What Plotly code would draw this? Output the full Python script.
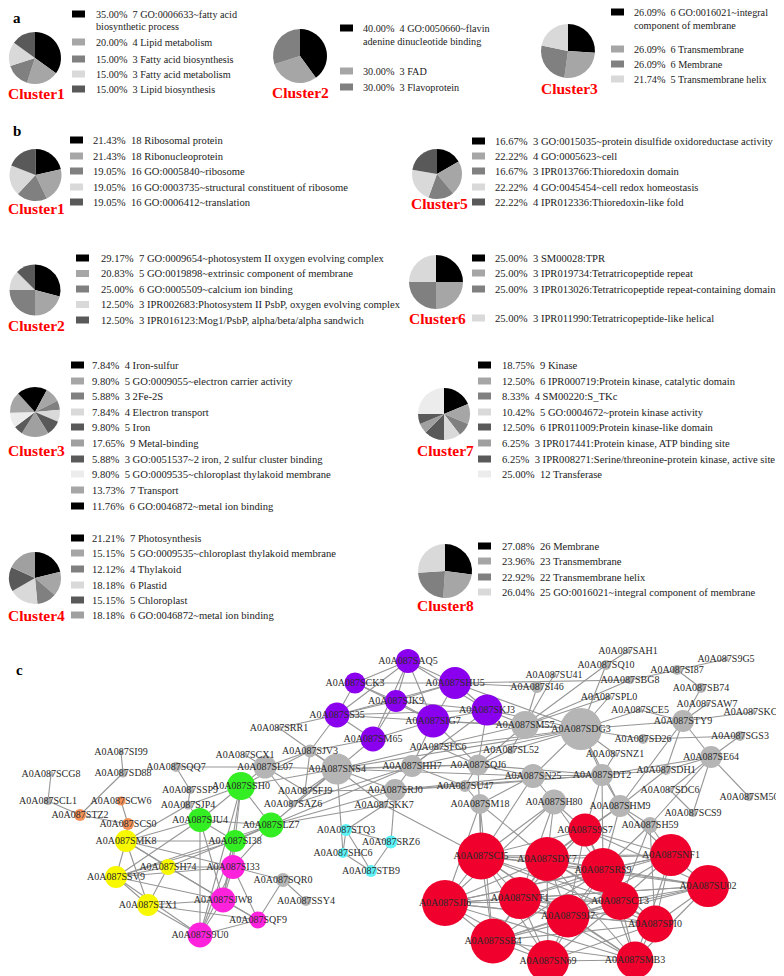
import plotly.graph_objects as go

W, H = 784, 976
FONT = "Liberation Serif"

# ---------------- data: panel a ----------------
a1_terms = ["GO:0006633~fatty acid\nbiosynthetic process", "Lipid metabolism", "Fatty acid biosynthesis",
            "Fatty acid metabolism", "Lipid biosynthesis"]
a1_pct = [35.00, 20.00, 15.00, 15.00, 15.00]
a1_cnt = [7, 4, 3, 3, 3]

a2_terms = ["GO:0050660~flavin\nadenine dinucleotide binding", "FAD", "Flavoprotein"]
a2_pct = [40.00, 30.00, 30.00]
a2_cnt = [4, 3, 3]

a3_terms = ["GO:0016021~integral\ncomponent of membrane", "Transmembrane", "Membrane", "Transmembrane helix"]
a3_pct = [26.09, 26.09, 26.09, 21.74]
a3_cnt = [6, 6, 6, 5]

# ---------------- data: panel b ----------------
b1_terms = ["Ribosomal protein", "Ribonucleoprotein", "GO:0005840~ribosome",
            "GO:0003735~structural constituent of ribosome", "GO:0006412~translation"]
b1_pct = [21.43, 21.43, 19.05, 19.05, 19.05]
b1_cnt = [18, 18, 16, 16, 16]

b2_terms = ["GO:0009654~photosystem II oxygen evolving complex", "GO:0019898~extrinsic component of membrane",
            "GO:0005509~calcium ion binding", "IPR002683:Photosystem II PsbP, oxygen evolving complex",
            "IPR016123:Mog1/PsbP, alpha/beta/alpha sandwich"]
b2_pct = [29.17, 20.83, 25.00, 12.50, 12.50]
b2_cnt = [7, 5, 6, 3, 3]

b3_terms = ["Iron-sulfur", "GO:0009055~electron carrier activity", "2Fe-2S", "Electron transport", "Iron",
            "Metal-binding", "GO:0051537~2 iron, 2 sulfur cluster binding",
            "GO:0009535~chloroplast thylakoid membrane", "Transport", "GO:0046872~metal ion binding"]
b3_pct = [7.84, 9.80, 5.88, 7.84, 9.80, 17.65, 5.88, 9.80, 13.73, 11.76]
b3_cnt = [4, 5, 3, 4, 5, 9, 3, 5, 7, 6]

b4_terms = ["Photosynthesis", "GO:0009535~chloroplast thylakoid membrane", "Thylakoid", "Plastid",
            "Chloroplast", "GO:0046872~metal ion binding"]
b4_pct = [21.21, 15.15, 12.12, 18.18, 15.15, 18.18]
b4_cnt = [7, 5, 4, 6, 5, 6]

b5_terms = ["GO:0015035~protein disulfide oxidoreductase activity", "GO:0005623~cell",
            "IPR013766:Thioredoxin domain", "GO:0045454~cell redox homeostasis", "IPR012336:Thioredoxin-like fold"]
b5_pct = [16.67, 22.22, 16.67, 22.22, 22.22]
b5_cnt = [3, 4, 3, 4, 4]

b6_terms = ["SM00028:TPR", "IPR019734:Tetratricopeptide repeat",
            "IPR013026:Tetratricopeptide repeat-containing domain", "IPR011990:Tetratricopeptide-like helical"]
b6_pct = [25.00, 25.00, 25.00, 25.00]
b6_cnt = [3, 3, 3, 3]

b7_terms = ["Kinase", "IPR000719:Protein kinase, catalytic domain", "SM00220:S_TKc",
            "GO:0004672~protein kinase activity", "IPR011009:Protein kinase-like domain",
            "IPR017441:Protein kinase, ATP binding site", "IPR008271:Serine/threonine-protein kinase, active site",
            "Transferase"]
b7_pct = [18.75, 12.50, 8.33, 10.42, 12.50, 6.25, 6.25, 25.00]
b7_cnt = [9, 6, 4, 5, 6, 3, 3, 12]

b8_terms = ["Membrane", "Transmembrane", "Transmembrane helix", "GO:0016021~integral component of membrane"]
b8_pct = [27.08, 23.96, 22.92, 26.04]
b8_cnt = [26, 23, 22, 25]

# ---------------- data: panel c (network) ----------------
PREFIX = "A0A087"
node_ids = ["SCG8", "SCL1", "SI99", "SD88", "SCW6", "STZ2", "SCS0", "SQQ7", "SSP9", "SJP4",
            "SSH0", "SJU4", "SLZ7", "SI38", "SMK8", "SH74", "SSV9", "STX1", "SI33", "SJW8",
            "SQF9", "S9U0", "SQR0", "SSY4", "STQ3", "SRZ6", "SHC6", "STB9", "SRR1", "SCX1",
            "SJV3", "SL07", "SNS4", "SFJ9", "SAZ6", "SCK3", "SS35", "SM65", "SAQ5", "SHU5",
            "SJK9", "SKJ3", "SIG7", "SFC6", "SHH7", "SQJ6", "SL52", "SRJ0", "SU47", "SKK7",
            "SM18", "SM57", "SI46", "SU41", "SN25", "SH80", "SDG3", "SAH1", "SQ10", "S9G5",
            "SI87", "SBG8", "SB74", "SPL0", "SCE5", "SAW7", "SKC5", "STY9", "SD26", "SGS3",
            "SNZ1", "SE64", "SDT2", "SDH1", "SDC6", "SM50", "SHM9", "SCS9", "SH59", "S9S7",
            "SCI5", "SDY7", "SRS9", "SNF1", "SU02", "SJI6", "SNT1", "SCT3", "S9J7", "SPI0",
            "SSB4", "SN69", "SMB3"]
node_x = [43, 40, 113, 115, 113, 72, 120, 168, 182, 180,
          233, 192, 263, 227, 118, 160, 108, 140, 225, 215,
          250, 192, 275, 298, 338, 383, 335, 363, 271, 237,
          302, 257, 329, 297, 285, 347, 329, 365, 400, 447,
          388, 479, 425, 430, 404, 470, 503, 387, 457, 376,
          472, 517, 529, 546, 525, 546, 573, 620, 598, 718,
          669, 622, 693, 601, 632, 699, 745, 675, 635, 732,
          607, 703, 594, 658, 662, 741, 612, 685, 642, 577,
          473, 539, 595, 663, 700, 437, 512, 612, 560, 647,
          485, 540, 627]
node_y = [766, 793, 744, 765, 793, 807, 816, 759, 782, 797,
          778, 812, 817, 833, 833, 859, 869, 897, 859, 892,
          912, 927, 872, 893, 822, 834, 845, 863, 720, 747,
          743, 759, 761, 783, 796, 675, 707, 731, 653, 675,
          693, 702, 713, 739, 758, 757, 742, 782, 778, 797,
          796, 717, 679, 667, 768, 794, 721, 643, 657, 651,
          662, 672, 680, 689, 702, 696, 704, 713, 731, 728,
          746, 749, 767, 762, 782, 789, 798, 805, 817, 822,
          848, 851, 862, 847, 878, 895, 890, 893, 908, 916,
          933, 953, 952]
node_group = ["gray", "gray", "gray", "gray", "orange", "orange", "orange", "gray", "gray", "gray",
              "green", "green", "green", "green", "yellow", "yellow", "yellow", "yellow", "magenta", "magenta",
              "magenta", "magenta", "gray", "gray", "cyan", "cyan", "cyan", "cyan", "gray", "gray",
              "gray", "gray", "gray", "gray", "gray", "purple", "purple", "purple", "purple", "purple",
              "purple", "purple", "purple", "gray", "gray", "gray", "gray", "gray", "gray", "gray",
              "gray", "gray", "gray", "gray", "gray", "gray", "gray", "gray", "gray", "gray",
              "gray", "gray", "gray", "gray", "gray", "gray", "gray", "gray", "gray", "gray",
              "gray", "gray", "gray", "gray", "gray", "gray", "gray", "gray", "gray", "red",
              "red", "red", "red", "red", "red", "red", "red", "red", "red", "red",
              "red", "red", "red"]
node_degree_size = [5, 8, 5, 9, 9, 12, 12, 10, 8, 9,
                    28, 24, 25, 22, 22, 16, 22, 22, 24, 25,
                    17, 25, 14, 10, 12, 13, 10, 12, 5, 5,
                    13, 23, 31, 7, 7, 21, 25, 25, 24, 32,
                    22, 31, 33, 6, 22, 21, 8, 22, 12, 7,
                    20, 28, 12, 5, 24, 25, 42, 5, 10, 5,
                    10, 8, 10, 5, 5, 5, 5, 22, 10, 10,
                    5, 22, 22, 10, 5, 8, 22, 8, 16, 33,
                    47, 44, 44, 42, 42, 46, 42, 38, 43, 37,
                    45, 42, 37]

edges = [
    ("SCG8", "SCL1"), ("SCL1", "STZ2"), ("SI99", "SD88"), ("SD88", "STZ2"), ("SCW6", "SCS0"), ("STZ2", "SCS0"),
    ("SQQ7", "SSP9"), ("SSP9", "SJP4"), ("SQQ7", "SL07"), ("SJP4", "SSH0"), ("SJP4", "SJU4"), ("SJP4", "SMK8"),
    ("SCS0", "SMK8"),
    ("SSH0", "SJU4"), ("SSH0", "SI38"), ("SSH0", "SLZ7"), ("SSH0", "SL07"), ("SSH0", "SNS4"), ("SSH0", "SJV3"),
    ("SSH0", "S9U0"), ("SSH0", "SJW8"),
    ("SJU4", "SI38"), ("SJU4", "SLZ7"), ("SJU4", "S9U0"), ("SJU4", "SJW8"), ("SJU4", "SSV9"), ("SJU4", "SMK8"),
    ("SLZ7", "SI38"), ("SLZ7", "SNS4"), ("SLZ7", "SRJ0"), ("SLZ7", "SH74"), ("SLZ7", "SI33"), ("SLZ7", "SHH7"),
    ("SLZ7", "SKK7"), ("SLZ7", "SSV9"),
    ("SI38", "SI33"), ("SI38", "SJW8"), ("SI38", "S9U0"), ("SI38", "SSV9"), ("SI38", "SMK8"),
    ("SMK8", "SSV9"), ("SMK8", "STX1"), ("SMK8", "SH74"), ("SMK8", "SI33"), ("SMK8", "SJW8"),
    ("SH74", "SSV9"), ("SH74", "STX1"), ("SH74", "SI33"), ("SH74", "SQF9"),
    ("SSV9", "STX1"), ("SSV9", "SI33"), ("SSV9", "SJW8"), ("SSV9", "S9U0"),
    ("STX1", "S9U0"), ("STX1", "SJW8"), ("STX1", "SQF9"),
    ("SI33", "SJW8"), ("SI33", "SQR0"), ("SI33", "SQF9"), ("SI33", "S9U0"),
    ("SJW8", "S9U0"), ("SJW8", "SQF9"), ("SQR0", "SSY4"), ("SQR0", "SQF9"), ("S9U0", "SQF9"),
    ("STQ3", "SHC6"), ("STQ3", "STB9"), ("STQ3", "SRZ6"), ("SHC6", "STB9"), ("SRZ6", "STB9"), ("STQ3", "SKK7"),
    ("SRZ6", "SRJ0"), ("SHC6", "SNS4"),
    ("SAQ5", "SCK3"), ("SAQ5", "SHU5"), ("SAQ5", "SJK9"), ("SAQ5", "SIG7"), ("SAQ5", "SM65"), ("SAQ5", "SS35"),
    ("SAQ5", "SKJ3"),
    ("SCK3", "SHU5"), ("SCK3", "SJK9"), ("SCK3", "SS35"), ("SCK3", "SIG7"),
    ("SHU5", "SJK9"), ("SHU5", "SKJ3"), ("SHU5", "SIG7"), ("SHU5", "SI46"), ("SHU5", "SDG3"), ("SHU5", "SS35"),
    ("SHU5", "SBG8"),
    ("SJK9", "SS35"), ("SJK9", "SIG7"), ("SJK9", "SM65"), ("SJK9", "SKJ3"),
    ("SS35", "SM65"), ("SS35", "SIG7"), ("SS35", "SKJ3"), ("SS35", "SJV3"), ("SS35", "SRR1"),
    ("SM65", "SIG7"), ("SM65", "SNS4"), ("SM65", "SJV3"),
    ("SIG7", "SKJ3"), ("SIG7", "SHH7"), ("SIG7", "SQJ6"), ("SIG7", "SM57"), ("SIG7", "SDG3"),
    ("SKJ3", "SM57"), ("SKJ3", "SQJ6"), ("SKJ3", "SDG3"), ("SKJ3", "SHH7"),
    ("SRR1", "SNS4"), ("SCX1", "SL07"),
    ("SJV3", "SNS4"), ("SJV3", "SL07"), ("SJV3", "SFJ9"),
    ("SL07", "SNS4"), ("SL07", "SFJ9"), ("SL07", "SAZ6"),
    ("SAZ6", "SNS4"), ("SAZ6", "SHH7"),
    ("SNS4", "SHH7"), ("SNS4", "SQJ6"), ("SNS4", "SDG3"), ("SNS4", "SFJ9"), ("SNS4", "SRJ0"),
    ("SNS4", "SKK7"), ("SNS4", "SN25"), ("SNS4", "SM57"),
    ("SHH7", "SQJ6"), ("SHH7", "SRJ0"), ("SHH7", "SFC6"), ("SHH7", "SDG3"), ("SHH7", "SU47"),
    ("SQJ6", "SFC6"), ("SQJ6", "SL52"), ("SQJ6", "SM57"), ("SQJ6", "SU47"), ("SQJ6", "SDT2"), ("SQJ6", "SN25"),
    ("SRJ0", "SKK7"), ("SRJ0", "SN25"), ("SRJ0", "SDT2"), ("SRJ0", "SU47"), ("SRJ0", "SFJ9"),
    ("SM18", "SU47"), ("SU47", "SDT2"),
    ("SN25", "SDT2"), ("SN25", "SH80"), ("SN25", "SDG3"), ("SN25", "SM18"),
    ("SDT2", "SDG3"), ("SDT2", "SHM9"), ("SDT2", "SNZ1"), ("SDT2", "SDH1"), ("SDT2", "SE64"),
    ("SDG3", "SM57"), ("SDG3", "SPL0"), ("SDG3", "SCE5"), ("SDG3", "STY9"), ("SDG3", "SNZ1"), ("SDG3", "SD26"),
    ("SDG3", "SQ10"), ("SDG3", "SL52"), ("SDG3", "SHM9"), ("SDG3", "SFC6"),
    ("SM57", "SI46"), ("SM57", "SU41"), ("SM57", "SQ10"), ("SM57", "SL52"), ("SM57", "SBG8"), ("SM57", "SPL0"),
    ("SQ10", "SAH1"), ("SI87", "S9G5"), ("SI87", "SB74"), ("SI87", "SBG8"), ("SB74", "STY9"),
    ("STY9", "SAW7"), ("STY9", "SKC5"), ("STY9", "SCE5"), ("STY9", "SE64"), ("STY9", "SDH1"), ("STY9", "SHM9"),
    ("SD26", "SGS3"), ("SE64", "SGS3"), ("SE64", "SM50"), ("SE64", "SDH1"), ("SE64", "SCS9"), ("SE64", "SH59"),
    ("SE64", "SDC6"), ("SDC6", "SCS9"), ("SDH1", "SHM9"),
    ("SHM9", "SH59"), ("SHM9", "SRS9"), ("SHM9", "S9S7"), ("SHM9", "SNF1"), ("SH59", "SNF1"), ("SH59", "SRS9"),
    ("SCI5", "SDY7"), ("SCI5", "SRS9"), ("SCI5", "SNF1"), ("SCI5", "SU02"), ("SCI5", "SJI6"), ("SCI5", "SNT1"),
    ("SCI5", "SCT3"), ("SCI5", "S9J7"), ("SCI5", "SSB4"), ("SCI5", "SN69"), ("SCI5", "SMB3"), ("SCI5", "S9S7"),
    ("SCI5", "SPI0"),
    ("SDY7", "SRS9"), ("SDY7", "SNF1"), ("SDY7", "SU02"), ("SDY7", "SJI6"), ("SDY7", "SNT1"), ("SDY7", "SCT3"),
    ("SDY7", "S9J7"), ("SDY7", "SSB4"), ("SDY7", "SN69"), ("SDY7", "SMB3"), ("SDY7", "S9S7"), ("SDY7", "SPI0"),
    ("SRS9", "SNF1"), ("SRS9", "SU02"), ("SRS9", "SJI6"), ("SRS9", "SNT1"), ("SRS9", "SCT3"), ("SRS9", "S9J7"),
    ("SRS9", "SSB4"), ("SRS9", "SN69"), ("SRS9", "SMB3"), ("SRS9", "S9S7"), ("SRS9", "SPI0"),
    ("SNF1", "SU02"), ("SNF1", "SCT3"), ("SNF1", "S9J7"), ("SNF1", "SPI0"), ("SNF1", "SMB3"), ("SNF1", "S9S7"),
    ("SNF1", "SNT1"), ("SNF1", "SJI6"),
    ("SU02", "SCT3"), ("SU02", "SPI0"), ("SU02", "SMB3"), ("SU02", "S9J7"), ("SU02", "SNT1"), ("SU02", "SJI6"),
    ("SU02", "SSB4"),
    ("SJI6", "SNT1"), ("SJI6", "S9J7"), ("SJI6", "SSB4"), ("SJI6", "SN69"), ("SJI6", "SCT3"), ("SJI6", "SMB3"),
    ("SJI6", "SPI0"),
    ("SNT1", "S9J7"), ("SNT1", "SSB4"), ("SNT1", "SN69"), ("SNT1", "SCT3"), ("SNT1", "SMB3"), ("SNT1", "SPI0"),
    ("SCT3", "S9J7"), ("SCT3", "SPI0"), ("SCT3", "SMB3"), ("SCT3", "SN69"), ("SCT3", "SSB4"),
    ("S9J7", "SSB4"), ("S9J7", "SN69"), ("S9J7", "SMB3"), ("S9J7", "SPI0"),
    ("SPI0", "SMB3"), ("SPI0", "SN69"), ("SPI0", "SSB4"),
    ("SSB4", "SN69"), ("SSB4", "SMB3"), ("SN69", "SMB3"),
    ("S9S7", "SNT1"), ("S9S7", "S9J7"), ("S9S7", "SCT3"), ("S9S7", "SU02"),
    ("SH80", "SCI5"), ("SH80", "SDY7"), ("SH80", "SRS9"), ("SH80", "S9S7"), ("SH80", "SJI6"), ("SH80", "SNT1"),
    ("SM18", "SCI5"), ("SM18", "SJI6"), ("SM18", "SDY7"), ("SM18", "SSB4"), ("SHM9", "SDY7"), ("SH59", "SCT3"),
    ("SH59", "SPI0"), ("SN25", "SCI5"), ("SDT2", "S9S7"), ("SDT2", "SRS9"), ("SQJ6", "SCI5"), ("SKK7", "SCI5"),
]

# ---------------- styles / layout config ----------------
PALETTE = ["#000000", "#a6a6a6", "#808080", "#d9d9d9", "#595959",
           "#a0a0a0", "#5a5a5a", "#ececec", "#a6a6a6", "#000000"]
GROUP_COLORS = {"gray": "#b5b5b5", "purple": "#8a00ee", "green": "#33ee22", "yellow": "#f8f800",
                "magenta": "#ff22dd", "cyan": "#5cf2f6", "orange": "#f39058", "red": "#f0002c"}

# each pie: data, pie centre/radius (px), cluster label pos, legend square x, text x, row y's, font size
pies = [
    dict(terms=a1_terms, pct=a1_pct, cnt=a1_cnt, name="Cluster1", c=(27, 50), r=26, lab=(28, 85),
         sq=64, tx=86, rows=[6, 34, 51, 66, 81], wrap=12, fs=10.2),
    dict(terms=a2_terms, pct=a2_pct, cnt=a2_cnt, name="Cluster2", c=(292, 48), r=27, lab=(292, 84),
         sq=332, tx=353, rows=[20, 63, 79], wrap=13, fs=10.2),
    dict(terms=a3_terms, pct=a3_pct, cnt=a3_cnt, name="Cluster3", c=(560, 43), r=27, lab=(561, 80),
         sq=603, tx=624, rows=[4, 41, 56, 71], wrap=13, fs=10.2),
    dict(terms=b1_terms, pct=b1_pct, cnt=b1_cnt, name="Cluster1", c=(27.5, 167), r=26, lab=(28, 200),
         sq=62, tx=83, rows=[132, 148, 163, 179, 194], fs=10.6),
    dict(terms=b2_terms, pct=b2_pct, cnt=b2_cnt, name="Cluster2", c=(27, 282), r=25.5, lab=(28, 317),
         sq=68, tx=91, rows=[250, 265.5, 281, 296.5, 312], fs=10.6),
    dict(terms=b3_terms, pct=b3_pct, cnt=b3_cnt, name="Cluster3", c=(27, 404), r=25, lab=(28, 442),
         sq=63, tx=82, rows=[357, 373, 388, 404, 419, 435, 451, 466, 482, 498], fs=10.6),
    dict(terms=b4_terms, pct=b4_pct, cnt=b4_cnt, name="Cluster4", c=(27, 570), r=26, lab=(28, 607),
         sq=63, tx=82, rows=[530, 545, 561, 577, 592, 607], fs=10.6),
    dict(terms=b5_terms, pct=b5_pct, cnt=b5_cnt, name="Cluster5", c=(429, 166), r=25, lab=(431, 195),
         sq=464, tx=485, rows=[133, 148, 163, 179, 194], fs=10.6),
    dict(terms=b6_terms, pct=b6_pct, cnt=b6_cnt, name="Cluster6", c=(428, 274), r=27, lab=(429, 310),
         sq=464, tx=485, rows=[250, 265, 281, 310], fs=10.6),
    dict(terms=b7_terms, pct=b7_pct, cnt=b7_cnt, name="Cluster7", c=(436, 406), r=26, lab=(437, 442),
         sq=470, tx=492, rows=[357, 373, 388, 404, 419, 435, 451, 466], fs=10.6),
    dict(terms=b8_terms, pct=b8_pct, cnt=b8_cnt, name="Cluster8", c=(437, 563), r=27, lab=(437, 597),
         sq=470, tx=492, rows=[538, 553, 569, 584], fs=10.6),
]

fig = go.Figure()
annotations = []
shapes = []

RED_FONT = dict(family=FONT, size=15.5, color="#ff0000")

for p in pies:
    cx, cy = p["c"]
    r = p["r"]
    n = len(p["pct"])
    cols = PALETTE[:n]
    txt_font = dict(family=FONT, size=p["fs"], color="#222222")
    dx = [max(0.0, (cx - r) / W), min(1.0, (cx + r) / W)]
    dy = [max(0.0, 1 - (cy + r) / H), min(1.0, 1 - (cy - r) / H)]
    fig.add_trace(go.Pie(
        values=p["pct"], labels=[str(i) for i in range(n)], sort=False, direction="clockwise",
        rotation=0, textinfo="none", hoverinfo="skip", showlegend=False,
        marker=dict(colors=cols, line=dict(width=0)),
        domain=dict(x=dx, y=dy),
    ))
    annotations.append(dict(x=p["lab"][0], y=p["lab"][1], xref="x", yref="y", text="<b>%s</b>" % p["name"],
                            showarrow=False, font=RED_FONT, xanchor="center", yanchor="middle"))
    for i in range(n):
        y = p["rows"][i]
        shapes.append(dict(type="rect", xref="x", yref="y", x0=p["sq"], x1=p["sq"] + 13, y0=y - 3.5, y1=y + 3.5,
                           fillcolor=cols[i], line=dict(width=0), layer="above"))
        lines = p["terms"][i].split("\n")
        first = "%.2f%%\u00a0\u00a0%d %s" % (p["pct"][i], p["cnt"][i], lines[0])
        annotations.append(dict(x=p["tx"], y=y, xref="x", yref="y", text=first, showarrow=False,
                                font=txt_font, xanchor="left", yanchor="middle"))
        for k, extra in enumerate(lines[1:]):
            annotations.append(dict(x=p["tx"], y=y + p["wrap"] * (k + 1), xref="x", yref="y", text=extra,
                                    showarrow=False, font=txt_font, xanchor="left", yanchor="middle"))

for letter, (lx, ly) in {"a": (9, 10), "b": (9, 123), "c": (11, 662)}.items():
    annotations.append(dict(x=lx, y=ly, xref="x", yref="y", text="<b>%s</b>" % letter, showarrow=False,
                            font=dict(family=FONT, size=15, color="#000000"), xanchor="center", yanchor="middle"))

# ---------------- network ----------------
pos = {nid: (node_x[i], node_y[i]) for i, nid in enumerate(node_ids)}
ex, ey = [], []
for a, b in edges:
    ex += [pos[a][0], pos[b][0], None]
    ey += [pos[a][1], pos[b][1], None]
fig.add_trace(go.Scatter(x=ex, y=ey, mode="lines", line=dict(color="#969696", width=1.1),
                         hoverinfo="skip", showlegend=False))
fig.add_trace(go.Scatter(
    x=node_x, y=node_y, mode="markers+text",
    marker=dict(size=node_degree_size, color=[GROUP_COLORS[g] for g in node_group], line=dict(width=0),
                opacity=1),
    text=[PREFIX + nid for nid in node_ids], textposition="middle center",
    textfont=dict(family=FONT, size=10, color="#2a2a2a"),
    hoverinfo="text", showlegend=False))

fig.update_layout(
    width=W, height=H, margin=dict(l=0, r=0, t=0, b=0),
    paper_bgcolor="white", plot_bgcolor="white",
    xaxis=dict(range=[0, W], visible=False, fixedrange=True, domain=[0, 1]),
    yaxis=dict(range=[H, 0], visible=False, fixedrange=True, domain=[0, 1]),
    annotations=annotations, shapes=shapes,
)

fig.write_html("out.html")
